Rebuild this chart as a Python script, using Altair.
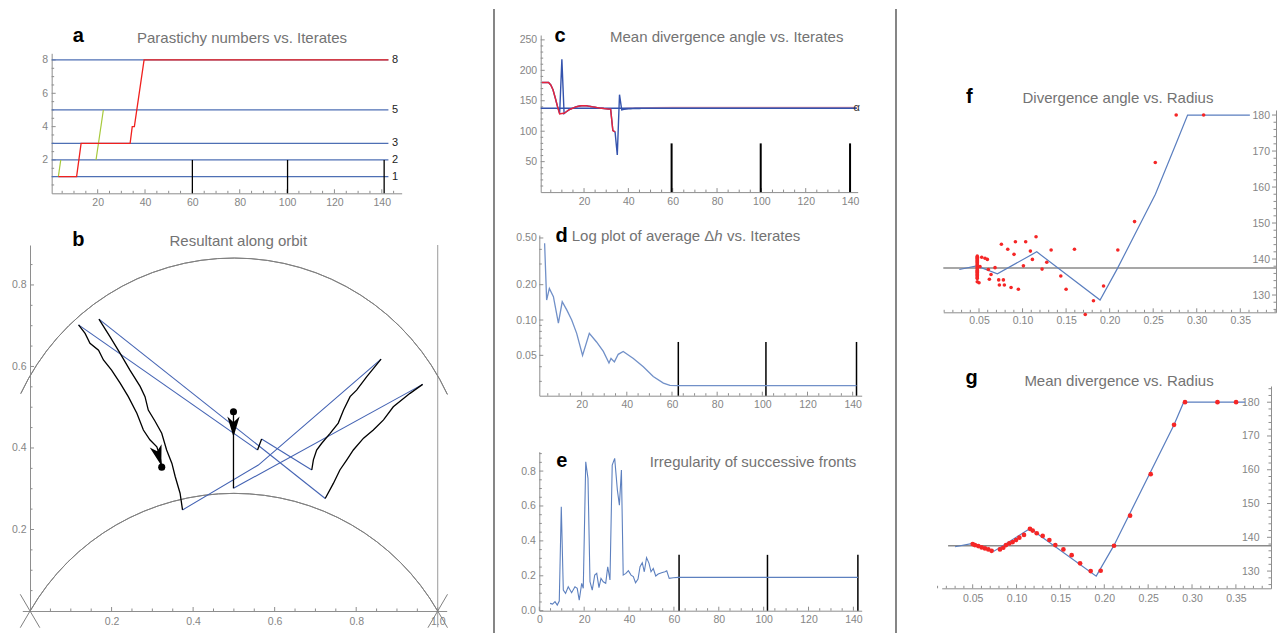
import altair as alt
import pandas as pd

W, H = 1279, 633
FONT = "Liberation Sans"
AXC = "#8e8e8e"
LABC = "#858585"
TTLC = "#737373"

# ---------------- (a) Parastichy numbers vs. Iterates ----------------
a_levels = [1, 2, 3, 5, 8]
a_level_x = [0.6, 142.8]
a_red_x = [3.4, 11.1, 13.0, 33.7, 34.6, 35.5, 39.6, 142.8]
a_red_y = [1, 1, 3, 3, 4, 4, 8, 8]
a_green1_x = [3.4, 4.4]
a_green1_y = [1, 2]
a_green2_x = [19.3, 22.4]
a_green2_y = [2, 5]
a_marks_x = [60, 100.2, 141]
a_marks_top = 2

# ---------------- (b) Resultant along orbit ----------------
b_black = [
    [(0.499, 0.489), (0.499, 0.301)],
    [(0.963, 0.556), (0.932, 0.534), (0.891, 0.501), (0.867, 0.469), (0.842, 0.444), (0.818, 0.424),
     (0.793, 0.395), (0.777, 0.371), (0.760, 0.346), (0.744, 0.313), (0.724, 0.276)],
    [(0.169, 0.716), (0.196, 0.673), (0.221, 0.632), (0.245, 0.591), (0.270, 0.551), (0.282, 0.526),
     (0.290, 0.493), (0.307, 0.465), (0.323, 0.436), (0.335, 0.395), (0.348, 0.362), (0.356, 0.330),
     (0.368, 0.289), (0.374, 0.248)],
    [(0.861, 0.618), (0.826, 0.575), (0.801, 0.542), (0.785, 0.526), (0.769, 0.493), (0.756, 0.461),
     (0.736, 0.436), (0.715, 0.411), (0.703, 0.395), (0.695, 0.371), (0.691, 0.346)],
    [(0.568, 0.422), (0.558, 0.395)],
    [(0.119, 0.702), (0.135, 0.681), (0.147, 0.657), (0.168, 0.640), (0.180, 0.616), (0.200, 0.591),
     (0.221, 0.559), (0.241, 0.526), (0.262, 0.485), (0.278, 0.444), (0.294, 0.420), (0.311, 0.403),
     (0.319, 0.379), (0.323, 0.353)],
]
b_blue = [
    [(0.499, 0.301), (0.963, 0.556)],
    [(0.724, 0.276), (0.169, 0.716)],
    [(0.374, 0.248), (0.560, 0.358), (0.861, 0.618)],
    [(0.691, 0.346), (0.568, 0.422)],
    [(0.558, 0.395), (0.119, 0.702)],
]
b_dots_x = [0.499, 0.323]
b_dots_y = [0.489, 0.353]
b_arrow1 = (0.499, 0.452)
b_arrow2 = (0.315, 0.381)
b_circle_cx = [0.5, 0.5]
b_circle_cy = [0.2887, -0.2887]
b_cross = [
    [(-0.024, -0.041), (0.0, 0.0)],
    [(-0.024, 0.041), (0.024, -0.041)],
    [(1.0, 0.0), (1.024, -0.041)],
    [(0.976, -0.041), (1.024, 0.041)],
]

# ---------------- (c) Mean divergence angle vs. Iterates ----------------
c_x = list(range(1, 61)) + [143]
c_blue = [180, 180, 180, 180, 176, 168, 155, 141, 129, 218,
          129, 132, 134.5, 136.5, 138, 139.5, 140.5, 141.3, 141.8, 142,
          141.7, 141.2, 140.6, 140, 139.4, 138.8, 138.2, 137.7, 137.2, 136.8,
          136.5, 136.3, 101, 99, 61, 160, 135, 135.8, 136.3, 136.7,
          136.9, 137.1, 137.2, 137.3, 137.4,
          137.5, 137.5, 137.5, 137.5, 137.5, 137.5, 137.5, 137.5, 137.5, 137.5,
          137.5, 137.5, 137.5, 137.5, 137.5, 137.5]
c_red_x = list(range(1, 35))
c_red = [180, 180, 180, 180, 176, 168, 155, 141, 128.5, 129,
         129.5, 132, 134.5, 136.5, 138, 139.5, 140.5, 141.3, 141.8, 142,
         141.7, 141.2, 140.6, 140, 139.4, 138.8, 138.2, 137.7, 137.2, 136.8,
         136.5, 136.3, 101, 99]
c_red_tail_x = [37, 38, 40, 45, 50, 60, 143]
c_red_tail = [135.5, 136.8, 137.6, 138.3, 138.7, 138.9, 138.9]
c_alpha = 137.5
c_marks_x = [59.5, 99.7, 140]
c_marks_top = 80

# ---------------- (d) Log plot of average Δh vs. Iterates ----------------
d_x = [3.6, 4.5, 5.7, 7.5, 9.7, 11.4, 13.4, 15.6, 17.8, 20.4, 23.4, 26.6, 29.6, 32.1, 33.0, 34.5,
       36.2, 38.4, 42.9, 47.3, 51.7, 56.2, 59.1, 62.8, 141.7]
d_y = [0.45, 0.148, 0.186, 0.158, 0.094, 0.143, 0.122, 0.100, 0.077, 0.050, 0.077, 0.065, 0.054,
       0.043, 0.047, 0.044, 0.051, 0.054, 0.047, 0.040, 0.033, 0.029, 0.0277, 0.0276, 0.0276]
d_marks_x = [62.8, 101.6, 141.7]
d_marks_top = 0.065

# ---------------- (e) Irregularity of successive fronts ----------------
e_x = [4.8, 5.9, 7.0, 8.0, 8.9, 9.8, 10.7, 11.7, 12.9, 14.4, 15.9, 16.9, 17.8, 18.9, 19.6, 20.7,
       21.7, 22.6, 23.6, 24.7, 25.6, 26.6, 27.5, 28.5, 29.6, 30.5, 31.5, 32.5, 33.6, 34.8, 35.7,
       36.6, 37.4, 38.6, 39.7, 40.9, 41.9, 42.9, 44.0, 44.9, 45.9, 46.8, 47.8, 48.9, 49.8, 50.8,
       51.9, 53.0, 54.5, 56.0, 56.8, 57.9, 59.7, 62.0, 142.0]
e_y = [0.042, 0.038, 0.052, 0.032, 0.055, 0.596, 0.118, 0.099, 0.137, 0.103, 0.137, 0.128, 0.061,
       0.157, 0.128, 0.853, 0.758, 0.166, 0.118, 0.204, 0.214, 0.132, 0.185, 0.166, 0.157, 0.252,
       0.176, 0.834, 0.873, 0.691, 0.605, 0.806, 0.204, 0.214, 0.229, 0.204, 0.195, 0.160, 0.181,
       0.252, 0.275, 0.223, 0.304, 0.271, 0.223, 0.242, 0.199, 0.210, 0.218, 0.223, 0.229, 0.185,
       0.189, 0.191, 0.191]
e_marks_x = [62.3, 101.7, 142]
e_marks_top = 0.32

# ---------------- (f) Divergence angle vs. Radius ----------------
f_line_x = [0.0274, 0.0473, 0.0711, 0.1163, 0.189, 0.209, 0.2525, 0.277, 0.2895, 0.361]
f_line_y = [137.1, 138.1, 135.9, 142.0, 128.6, 137.4, 158.0, 172.5, 180.0, 180.0]
f_dot_x = [0.048] * 23 + [0.050, 0.0531, 0.0569, 0.0596, 0.0511, 0.0607, 0.0684, 0.0638, 0.0619,
                          0.0726, 0.0734, 0.078, 0.0791, 0.0757, 0.083, 0.0868, 0.0918, 0.0902,
                          0.0952, 0.101, 0.1036, 0.109, 0.1113, 0.1155, 0.1224, 0.1278, 0.1328,
                          0.1439, 0.150, 0.1596, 0.172, 0.1814, 0.193, 0.2094, 0.2286, 0.2524,
                          0.2764, 0.3079]
f_dot_y = [140.8, 140.5, 140.2, 139.9, 139.6, 139.3, 139.0, 138.7, 138.4, 138.1, 137.8, 137.5,
           137.2, 136.9, 136.6, 136.3, 136.0, 135.7, 135.4, 135.1, 134.8, 134.6, 133.7,
           133.4, 140.5, 140.2, 139.9, 137.9, 137.1, 137.6, 135.7, 134.4, 134.2, 132.8, 134.2,
           132.8, 144.1, 142.7, 132.1, 144.8, 141.3, 131.6, 138.1, 144.8, 142.2, 139.9, 146.2,
           137.2, 139.1, 142.5, 135.3, 131.6, 142.7, 124.6, 128.4, 132.5, 142.5, 150.4, 166.8,
           180.0, 180.0]
f_ref = 137.5

# ---------------- (g) Mean divergence vs. Radius ----------------
g_line_x = [0.0299, 0.05, 0.0743, 0.1154, 0.1908, 0.211, 0.2795, 0.2905, 0.3605]
g_line_y = [137.2, 138.2, 135.9, 142.6, 128.5, 137.6, 173.3, 180.0, 180.0]
g_dot_x = [0.05, 0.0526, 0.0564, 0.0602, 0.064, 0.0678, 0.0716, 0.0811, 0.0849, 0.088, 0.0918,
           0.0956, 0.0994, 0.1032, 0.1085, 0.1153, 0.1184, 0.123, 0.1298, 0.1374, 0.1442, 0.1534,
           0.1628, 0.1724, 0.1845, 0.1959, 0.2111, 0.2294, 0.2529, 0.2795, 0.292, 0.329, 0.3502]
g_dot_y = [138.0, 137.7, 137.4, 137.0, 136.7, 136.4, 136.0, 136.4, 136.9, 137.7, 138.2, 138.6,
           139.2, 139.9, 140.7, 142.5, 142.0, 141.2, 140.4, 139.2, 137.7, 136.4, 134.7, 132.3,
           130.0, 130.1, 137.5, 146.4, 158.7, 173.3, 180.0, 180.0, 180.0]
g_ref = 137.5


def steps(start, stop, step, skip):
    out = []
    k = 1
    while start + k * step <= stop + 1e-9:
        v = round(start + k * step, 5)
        if abs(v / skip - round(v / skip)) > 1e-6:
            out.append(v)
        k += 1
    return out


# ---------------- panel geometry (pixels on the 1279x633 canvas) ----------------
PA = dict(xd=[0.57, 148.4], xr=[51.67, 401.67], yd=[0, 8.4], yr=[193.3, 53.3], ax=51.67, ay=193.3,
          xv=[20, 40, 60, 80, 100, 120, 140], xf="d", yv=[2, 4, 6, 8], yf="d", xpad=4, ypad=4,
          xmin=steps(0, 145, 5, 20), ymin=steps(0, 8.4, 0.5, 2), ydir=1)
PB = dict(xd=[-0.019, 1.022], xr=[22.3, 446.7], yd=[0, 0.898], yr=[611, 245], ax=30, ay=611,
          xv=[0.2, 0.4, 0.6, 0.8, 1.0], xf=".1f", yv=[0.2, 0.4, 0.6, 0.8], yf=".1f", xpad=5, ypad=4,
          xmin=steps(0, 1.0, 0.05, 0.2), ymin=steps(0, 0.88, 0.05, 0.2), ydir=1)
PC = dict(xd=[0.45, 143.45], xr=[540.7, 857.7], yd=[0, 258], yr=[192.1, 35], ax=540.7, ay=192.1,
          xv=[20, 40, 60, 80, 100, 120, 140], xf="d", yv=[50, 100, 150, 200, 250], yf="d", xpad=4.5,
          ypad=4, xmin=steps(0, 143, 5, 20), ymin=steps(0, 255, 10, 50), ydir=1)
PD = dict(xd=[1.25, 144], xr=[539.3, 861.7], yd=[0.02265, 0.53], yr=[395.7, 235], ax=539.3, ay=395.7,
          xv=[20, 40, 60, 80, 100, 120, 140], xf="d", yv=[0.05, 0.1, 0.2, 0.5], yf=".2f", xpad=3.5,
          ypad=3, xmin=steps(0, 143, 5, 20), ymin=[0.03, 0.04, 0.06, 0.07, 0.08, 0.09, 0.3, 0.4],
          ydir=1, ytype="log")
PE = dict(xd=[0, 143.7], xr=[539.3, 861.7], yd=[0, 0.911], yr=[610.7, 451.7], ax=539.3, ay=610.7,
          xv=[0, 20, 40, 60, 80, 100, 120, 140], xf="d", yv=[0, 0.2, 0.4, 0.6, 0.8], yf=".1f",
          xpad=3.5, ypad=4, xmin=steps(0, 143, 5, 20), ymin=steps(0, 0.9, 0.05, 0.2), ydir=1)
PF = dict(xd=[0.009, 0.391], xr=[943.3, 1276], yd=[125.2, 181.4], yr=[312.3, 110], ax=1276, ay=312.3,
          xv=[0.05, 0.1, 0.15, 0.2, 0.25, 0.3, 0.35], xf=".2f", yv=[130, 140, 150, 160, 170, 180],
          yf="d", xpad=3, ypad=6.5, xmin=steps(0, 0.39, 0.01, 0.05), ymin=steps(124, 181, 2, 10),
          ydir=-1)
PG = dict(xd=[0.0147, 0.390], xr=[941.7, 1271], yd=[124.9, 184.8], yr=[588.3, 386], ax=1271, ay=588.3,
          xv=[0.05, 0.1, 0.15, 0.2, 0.25, 0.3, 0.35], xf=".2f", yv=[130, 140, 150, 160, 170, 180],
          yf="d", xpad=5, ypad=12, xmin=steps(0, 0.389, 0.01, 0.05), ymin=steps(124, 184, 2, 10),
          ydir=-1)


def ex(p, f="x"):
    return alt.X(f"{f}:Q",
                 scale=alt.Scale(domain=p["xd"], range=p["xr"], nice=False, zero=False),
                 axis=alt.Axis(orient="bottom", offset=p["ay"] - H, values=p["xv"], format=p["xf"],
                               ticks=False, tickSize=0, grid=False, domainColor=AXC, domainWidth=1,
                               labelColor=LABC, labelFont=FONT, labelFontSize=10.5,
                               labelPadding=p["xpad"], labelFlush=False, labelOverlap=False,
                               title=""))


def ey(p, f="y"):
    return alt.Y(f"{f}:Q",
                 scale=alt.Scale(domain=p["yd"], range=p["yr"], nice=False, zero=False,
                                 type=p.get("ytype", "linear")),
                 axis=alt.Axis(orient="left", offset=-p["ax"], values=p["yv"], format=p["yf"],
                               ticks=False, tickSize=0, grid=False, domainColor=AXC, domainWidth=1,
                               labelColor=LABC, labelFont=FONT, labelFontSize=10.5,
                               labelPadding=p["ypad"], labelFlush=False, labelOverlap=False,
                               title=""))


def tick_layers(p):
    out = []
    for vals, ln in ((p["xv"], 4), (p["xmin"], 2.5)):
        out.append(alt.Chart(pd.DataFrame({"x": vals})).mark_rule(color=AXC, strokeWidth=1).encode(
            x=ex(p), y=alt.value(p["ay"] - ln), y2=alt.value(p["ay"])))
    for vals, ln in ((p["yv"], 4), (p["ymin"], 2.5)):
        out.append(alt.Chart(pd.DataFrame({"y": vals})).mark_rule(color=AXC, strokeWidth=1).encode(
            y=ey(p), x=alt.value(p["ax"]), x2=alt.value(p["ax"] + p["ydir"] * ln)))
    return out


def line(p, xs, ys, color, width=1.2, opacity=1.0):
    df = pd.DataFrame({"x": xs, "y": ys, "o": list(range(len(xs)))})
    return alt.Chart(df).mark_line(color=color, strokeWidth=width, opacity=opacity).encode(
        x=ex(p), y=ey(p), order="o:Q")


def multiline(p, segs, color, width=1.2):
    rows = []
    for i, seg in enumerate(segs):
        for j, (x, y) in enumerate(seg):
            rows.append({"x": x, "y": y, "s": i, "o": j})
    return alt.Chart(pd.DataFrame(rows)).mark_line(color=color, strokeWidth=width).encode(
        x=ex(p), y=ey(p), detail="s:N", order="o:Q")


def markers(p, xs, bottom, top, width):
    df = pd.DataFrame({"x": xs, "y": [bottom] * len(xs), "y2": [top] * len(xs)})
    return alt.Chart(df).mark_rule(color="black", strokeWidth=width).encode(
        x=ex(p), y=ey(p), y2="y2:Q")


def txt(s, x, y, size=15, bold=False, color=TTLC, align="center", italic=False):
    return alt.Chart(pd.DataFrame({"t": [s]})).mark_text(
        align=align, baseline="alphabetic", font=FONT, fontSize=size,
        fontWeight="bold" if bold else "normal", fontStyle="italic" if italic else "normal",
        color=color).encode(x=alt.value(x), y=alt.value(y), text="t:N")


def vsep(x):
    return alt.Chart(pd.DataFrame({"v": [0]})).mark_rule(color="#222222", strokeWidth=1.1).encode(
        x=alt.value(x), y=alt.value(9), y2=alt.value(H))


# ---------------- panel a ----------------
lv_rows = [{"x": xx, "y": lv, "s": lv} for lv in a_levels for xx in a_level_x]
a_lv = alt.Chart(pd.DataFrame(lv_rows)).mark_line(color="#4e6fb4", strokeWidth=1.2).encode(
    x=ex(PA), y=ey(PA), detail="s:N")
a_lab = alt.Chart(pd.DataFrame({"y": a_levels, "t": [str(v) for v in a_levels]})).mark_text(
    align="center", baseline="middle", font=FONT, fontSize=11, color="#222222").encode(
    x=alt.value(395), y=ey(PA), text="t:N")
panel_a = alt.layer(
    *tick_layers(PA), a_lv,
    markers(PA, a_marks_x, 0, a_marks_top, 1.3),
    line(PA, a_green1_x, a_green1_y, "#a6c93a"),
    line(PA, a_green2_x, a_green2_y, "#a6c93a"),
    line(PA, a_red_x, a_red_y, "#f0201e", 1.3),
    a_lab,
)

# ---------------- panel b ----------------
def arc(cy, t0, t1):
    df = pd.DataFrame({"x": [0.5], "y": [cy]})
    return alt.Chart(df).mark_arc(radius=235.3, radius2=235.3, theta=t0, theta2=t1, filled=False,
                                  stroke="#808080", strokeWidth=1).encode(x=ex(PB), y=ey(PB))


b_vline = alt.Chart(pd.DataFrame({"x": [1.0], "y": [-0.04], "y2": [0.898]})).mark_rule(
    color="#9a9a9a", strokeWidth=1).encode(x=ex(PB), y=ey(PB), y2="y2:Q")
arrow_shape = "M0,1 L-0.6,-1 L0,-0.45 L0.6,-1 Z"
b_arr1 = alt.Chart(pd.DataFrame({"x": [b_arrow1[0]], "y": [b_arrow1[1]]})).mark_point(
    shape=arrow_shape, filled=True, color="black", size=420, opacity=1).encode(x=ex(PB), y=ey(PB))
b_arr2 = alt.Chart(pd.DataFrame({"x": [b_arrow2[0]], "y": [b_arrow2[1]]})).mark_point(
    shape=arrow_shape, filled=True, color="black", size=420, angle=344, opacity=1).encode(
    x=ex(PB), y=ey(PB))
b_dots = alt.Chart(pd.DataFrame({"x": b_dots_x, "y": b_dots_y})).mark_circle(
    color="black", size=50, opacity=1).encode(x=ex(PB), y=ey(PB))
panel_b = alt.layer(
    *tick_layers(PB), b_vline,
    arc(b_circle_cy[0], 5.150, 7.420),
    arc(b_circle_cy[1], 5.236, 7.330),
    multiline(PB, b_cross, "#808080", 1),
    multiline(PB, b_blue, "#4463b3", 1.1),
    multiline(PB, b_black, "black", 1.3),
    b_arr1, b_arr2, b_dots,
)

# ---------------- panel c ----------------
c_ref = line(PC, [0.45, 143], [c_alpha, c_alpha], "#3453ad", 1.5)
c_lab = alt.Chart(pd.DataFrame({"y": [c_alpha], "t": ["α"]})).mark_text(
    align="left", baseline="middle", font=FONT, fontSize=11, color="#333333").encode(
    x=alt.value(853.5), y=ey(PC), text="t:N")
panel_c = alt.layer(
    *tick_layers(PC),
    markers(PC, c_marks_x, 0, c_marks_top, 2),
    line(PC, c_red_tail_x, c_red_tail, "#e8233c", 1.4, 0.45),
    c_ref,
    line(PC, c_x, c_blue, "#3453ad", 1.4),
    line(PC, c_red_x, c_red, "#e8233c", 1.4),
    c_lab,
)

# ---------------- panel d ----------------
panel_d = alt.layer(
    *tick_layers(PD),
    markers(PD, d_marks_x, 0.02265, d_marks_top, 1.5),
    line(PD, d_x, d_y, "#7190c8", 1.3),
)

# ---------------- panel e ----------------
panel_e = alt.layer(
    *tick_layers(PE),
    markers(PE, e_marks_x, 0, e_marks_top, 1.5),
    line(PE, e_x, e_y, "#5d80bf", 1.1),
)

# ---------------- panel f ----------------
panel_f = alt.layer(
    *tick_layers(PF),
    line(PF, [0.009, 0.391], [f_ref, f_ref], "#8a8a8a", 1.4),
    line(PF, f_line_x, f_line_y, "#5a7ebf", 1.2),
    alt.Chart(pd.DataFrame({"x": f_dot_x, "y": f_dot_y})).mark_circle(
        color="#f52626", size=13, opacity=1).encode(x=ex(PF), y=ey(PF)),
)

# ---------------- panel g ----------------
panel_g = alt.layer(
    *tick_layers(PG),
    line(PG, [0.022, 0.39], [g_ref, g_ref], "#8a8a8a", 1.4),
    line(PG, g_line_x, g_line_y, "#5a7ebf", 1.2),
    alt.Chart(pd.DataFrame({"x": g_dot_x, "y": g_dot_y})).mark_circle(
        color="#f52626", size=22, opacity=1).encode(x=ex(PG), y=ey(PG)),
)

texts = [
    txt("a", 78.3, 41.7, 20, True, "black"),
    txt("Parastichy numbers vs. Iterates", 242, 42.7),
    txt("b", 78.3, 246, 20, True, "black"),
    txt("Resultant along orbit", 238.3, 245.7),
    txt("c", 560, 41.7, 20, True, "black"),
    txt("Mean divergence angle vs. Iterates", 726.7, 42.3),
    txt("d", 561.7, 241.7, 20, True, "black"),
    txt("Log plot of average Δ", 571.7, 241.3, align="left"),
    txt("h", 714.3, 241.3, align="left", italic=True),
    txt("vs. Iterates", 727.0, 241.3, align="left"),
    txt("e", 561.7, 466.7, 20, True, "black"),
    txt("Irregularity of successive fronts", 753, 466.7),
    txt("f", 969.3, 102.7, 20, True, "black"),
    txt("Divergence angle vs. Radius", 1118, 103.3),
    txt("g", 971.7, 384, 20, True, "black"),
    txt("Mean divergence vs. Radius", 1119, 386),
]

chart = alt.layer(
    panel_a, panel_b, panel_c, panel_d, panel_e, panel_f, panel_g,
    *texts, vsep(494), vsep(896),
).resolve_scale(x="independent", y="independent").resolve_axis(
    x="independent", y="independent"
).properties(
    width=W, height=H, autosize=alt.AutoSizeParams(type="none"), padding=0, background="white"
).configure_view(strokeWidth=0)

chart.save("out.html", embed_options={"renderer": "svg", "actions": False})
